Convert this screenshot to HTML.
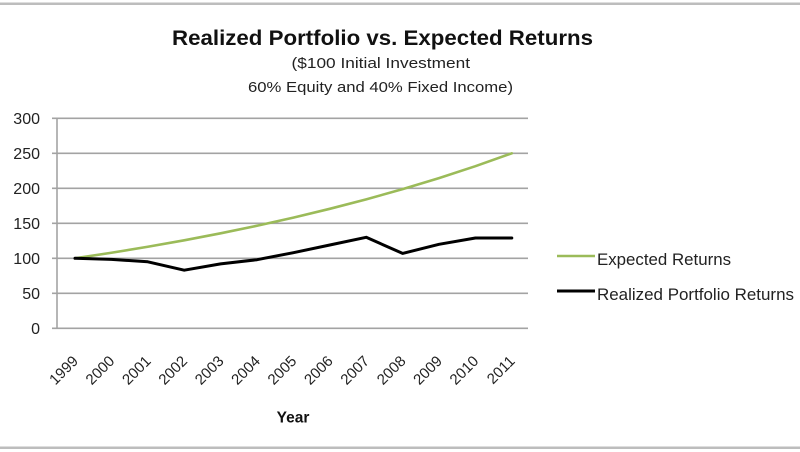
<!DOCTYPE html>
<html>
<head>
<meta charset="utf-8">
<style>
  html, body { margin:0; padding:0; background:#ffffff; }
  svg { display:block; }
  text { font-family: "Liberation Sans", sans-serif; }
</style>
</head>
<body>
<svg width="800" height="452" viewBox="0 0 800 452" xmlns="http://www.w3.org/2000/svg">
  <rect x="0" y="0" width="800" height="452" fill="#ffffff"/>
  <!-- frame borders -->
  <rect x="0" y="2.5" width="800" height="2.5" fill="#bdbdbd"/>
  <rect x="0" y="446.5" width="800" height="2.5" fill="#bdbdbd"/>

  <!-- Title -->
  <text x="172" y="45" font-size="21" font-weight="bold" fill="#111" textLength="421" lengthAdjust="spacingAndGlyphs">Realized Portfolio vs. Expected Returns</text>
  <text x="291.5" y="68" font-size="15" fill="#222" textLength="178.5" lengthAdjust="spacingAndGlyphs">($100 Initial Investment</text>
  <text x="248" y="92" font-size="15" fill="#222" textLength="265" lengthAdjust="spacingAndGlyphs">60% Equity and 40% Fixed Income)</text>

  <!-- Gridlines -->
  <g stroke="#a3a3a3" stroke-width="1.6">
    <line x1="52" y1="118.3" x2="528" y2="118.3"/>
    <line x1="52" y1="153.3" x2="528" y2="153.3"/>
    <line x1="52" y1="188.3" x2="528" y2="188.3"/>
    <line x1="52" y1="223.3" x2="528" y2="223.3"/>
    <line x1="52" y1="258.3" x2="528" y2="258.3"/>
    <line x1="52" y1="293.3" x2="528" y2="293.3"/>
    <line x1="52" y1="328.3" x2="528" y2="328.3"/>
    <line x1="57" y1="117.5" x2="57" y2="329"/>
  </g>

  <!-- Y labels -->
  <g font-size="16" fill="#222" text-anchor="end">
    <text x="40" y="124">300</text>
    <text x="40" y="159">250</text>
    <text x="40" y="194">200</text>
    <text x="40" y="229">150</text>
    <text x="40" y="264">100</text>
    <text x="40" y="299">50</text>
    <text x="40" y="334">0</text>
  </g>

  <!-- X labels rotated -->
  <g font-size="15" fill="#222" text-anchor="end">
    <text transform="translate(79,362) rotate(-45)">1999</text>
    <text transform="translate(115.4,362) rotate(-45)">2000</text>
    <text transform="translate(151.8,362) rotate(-45)">2001</text>
    <text transform="translate(188.2,362) rotate(-45)">2002</text>
    <text transform="translate(224.6,362) rotate(-45)">2003</text>
    <text transform="translate(261,362) rotate(-45)">2004</text>
    <text transform="translate(297.4,362) rotate(-45)">2005</text>
    <text transform="translate(333.8,362) rotate(-45)">2006</text>
    <text transform="translate(370.2,362) rotate(-45)">2007</text>
    <text transform="translate(406.6,362) rotate(-45)">2008</text>
    <text transform="translate(443,362) rotate(-45)">2009</text>
    <text transform="translate(479.4,362) rotate(-45)">2010</text>
    <text transform="translate(515.8,362) rotate(-45)">2011</text>
  </g>

  <!-- Axis title -->
  <text x="293" y="422.5" font-size="15.5" font-weight="bold" fill="#111" text-anchor="middle">Year</text>

  <!-- Expected returns (green) -->
  <polyline fill="none" stroke="#9bbb59" stroke-width="2.6" stroke-linejoin="round" stroke-linecap="round"
    points="75,258.3 111.4,252.77 147.8,246.75 184.2,240.31 220.6,233.31 257,225.75 293.4,217.63 329.8,208.81 366.2,199.36 402.6,189.14 439,178.08 475.4,166.18 511.8,153.3"/>

  <!-- Realized (black) -->
  <polyline fill="none" stroke="#000000" stroke-width="3" stroke-linejoin="round" stroke-linecap="round"
    points="75,258.3 111.4,259.35 147.8,261.8 184.2,270.2 220.6,263.9 257,259.7 293.4,252.7 329.8,245 366.2,237.3 402.6,253.4 439,244.3 475.4,238 511.8,238"/>

  <!-- Legend -->
  <line x1="557" y1="256" x2="595" y2="256" stroke="#9bbb59" stroke-width="2.6"/>
  <text x="597" y="265" font-size="16.5" fill="#222" textLength="134" lengthAdjust="spacingAndGlyphs">Expected Returns</text>
  <line x1="557" y1="291" x2="595" y2="291" stroke="#000" stroke-width="3"/>
  <text x="597" y="300" font-size="16.5" fill="#222" textLength="197" lengthAdjust="spacingAndGlyphs">Realized Portfolio Returns</text>
</svg>
</body>
</html>
